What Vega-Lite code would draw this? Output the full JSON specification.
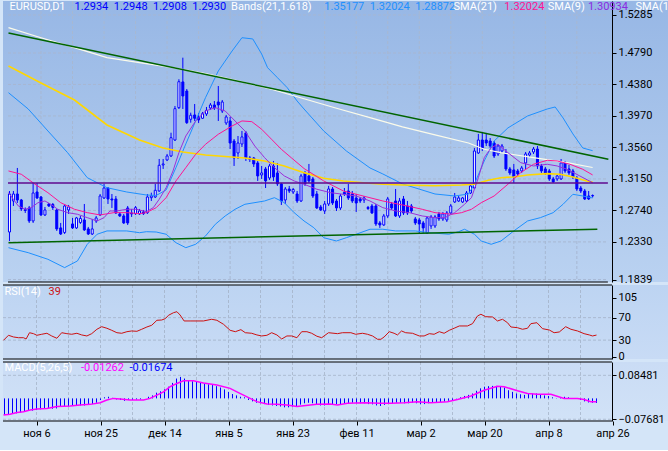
{
"$schema": "https://vega.github.io/schema/vega-lite/v6.json",
"background": "#d4e5f8",
"padding": {"left": 0, "top": 0, "right": 0, "bottom": 12},
"spacing": 3,
"bounds": "flush",
"config": {"view": {"stroke": null}, "font": "Roboto", "text": {"font": "Roboto"},
 "axis": {"labelOverlap": false, "labelBound": false, "labelFlush": false, "grid": false, "title": null, "labelFont": "Roboto", "labelFontSize": 11, "labelColor": "#000000", "tickColor": "#000000", "domainColor": "#000000", "tickSize": 4, "labelPadding": 2, "labelSeparation": 0}},
"resolve": {"scale": {"x": "independent", "y": "independent"}},
"datasets": {
"candles": [
{"i":0,"o":1.2459,"h":1.2993,"l":1.2342,"c":1.2954},{"i":1,"o":1.2863,"h":1.2993,"l":1.2798,"c":1.2954},{"i":2,"o":1.2954,"h":1.3293,"l":1.2837,"c":1.2876},{"i":3,"o":1.2876,"h":1.2889,"l":1.2733,"c":1.2759},{"i":4,"o":1.2752,"h":1.2779,"l":1.2707,"c":1.2739},{"i":5,"o":1.2772,"h":1.2798,"l":1.2577,"c":1.2603},{"i":6,"o":1.2603,"h":1.3098,"l":1.2577,"c":1.2967},{"i":7,"o":1.2980,"h":1.3098,"l":1.2889,"c":1.2902},{"i":8,"o":1.2915,"h":1.2928,"l":1.2668,"c":1.2681},{"i":9,"o":1.2681,"h":1.2785,"l":1.2668,"c":1.2746},
{"i":10,"o":1.2824,"h":1.2837,"l":1.2785,"c":1.2798},{"i":11,"o":1.2818,"h":1.2837,"l":1.2746,"c":1.2779},{"i":12,"o":1.2746,"h":1.2759,"l":1.2473,"c":1.2499},{"i":13,"o":1.2512,"h":1.2577,"l":1.2420,"c":1.2433},{"i":14,"o":1.2453,"h":1.2824,"l":1.2433,"c":1.2798},{"i":15,"o":1.2746,"h":1.2811,"l":1.2694,"c":1.2785},{"i":16,"o":1.2564,"h":1.2642,"l":1.2499,"c":1.2512},{"i":17,"o":1.2512,"h":1.2655,"l":1.2499,"c":1.2642},{"i":18,"o":1.2583,"h":1.2668,"l":1.2564,"c":1.2635},{"i":19,"o":1.2616,"h":1.2824,"l":1.2473,"c":1.2486},
{"i":20,"o":1.2499,"h":1.2525,"l":1.2420,"c":1.2433},{"i":21,"o":1.2433,"h":1.2629,"l":1.2420,"c":1.2499},{"i":22,"o":1.2603,"h":1.2668,"l":1.2577,"c":1.2642},{"i":23,"o":1.2681,"h":1.2954,"l":1.2668,"c":1.2928},{"i":24,"o":1.2902,"h":1.3085,"l":1.2889,"c":1.3032},{"i":25,"o":1.3032,"h":1.3045,"l":1.2824,"c":1.2889},{"i":26,"o":1.2889,"h":1.2954,"l":1.2772,"c":1.2876},{"i":27,"o":1.2889,"h":1.2928,"l":1.2694,"c":1.2707},{"i":28,"o":1.2694,"h":1.2720,"l":1.2655,"c":1.2668},{"i":29,"o":1.2668,"h":1.2694,"l":1.2564,"c":1.2577},
{"i":30,"o":1.2772,"h":1.2798,"l":1.2551,"c":1.2577},{"i":31,"o":1.2707,"h":1.2759,"l":1.2655,"c":1.2694},{"i":32,"o":1.2698,"h":1.2798,"l":1.2681,"c":1.2776},{"i":33,"o":1.2694,"h":1.2759,"l":1.2681,"c":1.2733},{"i":34,"o":1.2720,"h":1.2746,"l":1.2681,"c":1.2698},{"i":35,"o":1.2711,"h":1.2954,"l":1.2694,"c":1.2915},{"i":36,"o":1.2906,"h":1.2971,"l":1.2863,"c":1.2928},{"i":37,"o":1.2915,"h":1.3085,"l":1.2902,"c":1.3002},{"i":38,"o":1.2993,"h":1.3410,"l":1.2984,"c":1.3328},{"i":39,"o":1.3332,"h":1.3410,"l":1.3280,"c":1.3345},
{"i":40,"o":1.3397,"h":1.3475,"l":1.3384,"c":1.3449},{"i":41,"o":1.3449,"h":1.3752,"l":1.3436,"c":1.3687},{"i":42,"o":1.3657,"h":1.4100,"l":1.3644,"c":1.4065},{"i":43,"o":1.4078,"h":1.4448,"l":1.4061,"c":1.4416},{"i":44,"o":1.4413,"h":1.4729,"l":1.4061,"c":1.4230},{"i":45,"o":1.4295,"h":1.4321,"l":1.3866,"c":1.3883},{"i":46,"o":1.3927,"h":1.4013,"l":1.3883,"c":1.3979},{"i":47,"o":1.3983,"h":1.4126,"l":1.3905,"c":1.3940},{"i":48,"o":1.3957,"h":1.4009,"l":1.3879,"c":1.3918},{"i":49,"o":1.3940,"h":1.4022,"l":1.3931,"c":1.4000},
{"i":50,"o":1.3996,"h":1.4087,"l":1.3970,"c":1.4042},{"i":51,"o":1.4074,"h":1.4139,"l":1.4048,"c":1.4113},{"i":52,"o":1.4113,"h":1.4165,"l":1.4048,"c":1.4074},{"i":53,"o":1.4152,"h":1.4360,"l":1.3905,"c":1.4113},{"i":54,"o":1.4035,"h":1.4178,"l":1.4009,"c":1.4152},{"i":55,"o":1.3879,"h":1.3983,"l":1.3853,"c":1.3957},{"i":56,"o":1.3905,"h":1.3957,"l":1.3540,"c":1.3618},{"i":57,"o":1.3644,"h":1.3670,"l":1.3319,"c":1.3423},{"i":58,"o":1.3488,"h":1.3709,"l":1.3410,"c":1.3618},{"i":59,"o":1.3605,"h":1.3775,"l":1.3566,"c":1.3697},
{"i":60,"o":1.3749,"h":1.3775,"l":1.3384,"c":1.3423},{"i":61,"o":1.3423,"h":1.3449,"l":1.3371,"c":1.3404},{"i":62,"o":1.3423,"h":1.3436,"l":1.3306,"c":1.3345},{"i":63,"o":1.3358,"h":1.3384,"l":1.3124,"c":1.3189},{"i":64,"o":1.3202,"h":1.3319,"l":1.3150,"c":1.3228},{"i":65,"o":1.3280,"h":1.3306,"l":1.3032,"c":1.3124},{"i":66,"o":1.3163,"h":1.3345,"l":1.3137,"c":1.3319},{"i":67,"o":1.3319,"h":1.3384,"l":1.3124,"c":1.3176},{"i":68,"o":1.3228,"h":1.3358,"l":1.3059,"c":1.3085},{"i":69,"o":1.3085,"h":1.3098,"l":1.2811,"c":1.2863},
{"i":70,"o":1.2876,"h":1.3045,"l":1.2824,"c":1.3019},{"i":71,"o":1.3019,"h":1.3059,"l":1.2967,"c":1.2993},{"i":72,"o":1.2980,"h":1.3032,"l":1.2954,"c":1.3013},{"i":73,"o":1.2954,"h":1.2993,"l":1.2837,"c":1.2863},{"i":74,"o":1.2863,"h":1.3215,"l":1.2850,"c":1.3189},{"i":75,"o":1.3228,"h":1.3254,"l":1.3059,"c":1.3085},{"i":76,"o":1.3189,"h":1.3345,"l":1.3098,"c":1.3124},{"i":77,"o":1.3150,"h":1.3176,"l":1.2902,"c":1.2928},{"i":78,"o":1.2954,"h":1.2993,"l":1.2759,"c":1.2772},{"i":79,"o":1.2785,"h":1.2811,"l":1.2733,"c":1.2746},
{"i":80,"o":1.2733,"h":1.2863,"l":1.2694,"c":1.2824},{"i":81,"o":1.2824,"h":1.3059,"l":1.2798,"c":1.3019},{"i":82,"o":1.3019,"h":1.3045,"l":1.2811,"c":1.2837},{"i":83,"o":1.2863,"h":1.2889,"l":1.2733,"c":1.2772},{"i":84,"o":1.2772,"h":1.2954,"l":1.2746,"c":1.2928},{"i":85,"o":1.2974,"h":1.3032,"l":1.2928,"c":1.2954},{"i":86,"o":1.2993,"h":1.3085,"l":1.2876,"c":1.2902},{"i":87,"o":1.2954,"h":1.2993,"l":1.2837,"c":1.2863},{"i":88,"o":1.2902,"h":1.2954,"l":1.2720,"c":1.2837},{"i":89,"o":1.2889,"h":1.2915,"l":1.2837,"c":1.2863},
{"i":90,"o":1.2876,"h":1.2928,"l":1.2837,"c":1.2902},{"i":91,"o":1.2779,"h":1.2798,"l":1.2746,"c":1.2765},{"i":92,"o":1.2798,"h":1.2824,"l":1.2694,"c":1.2707},{"i":93,"o":1.2798,"h":1.2824,"l":1.2538,"c":1.2564},{"i":94,"o":1.2577,"h":1.2603,"l":1.2512,"c":1.2551},{"i":95,"o":1.2551,"h":1.2694,"l":1.2538,"c":1.2668},{"i":96,"o":1.2668,"h":1.2915,"l":1.2642,"c":1.2889},{"i":97,"o":1.2824,"h":1.2850,"l":1.2746,"c":1.2772},{"i":98,"o":1.2863,"h":1.3019,"l":1.2655,"c":1.2668},{"i":99,"o":1.2668,"h":1.2902,"l":1.2642,"c":1.2863},
{"i":100,"o":1.2889,"h":1.2928,"l":1.2681,"c":1.2707},{"i":101,"o":1.2798,"h":1.2863,"l":1.2681,"c":1.2707},{"i":102,"o":1.2798,"h":1.2824,"l":1.2707,"c":1.2733},{"i":103,"o":1.2629,"h":1.2655,"l":1.2551,"c":1.2577},{"i":104,"o":1.2616,"h":1.2642,"l":1.2433,"c":1.2564},{"i":105,"o":1.2577,"h":1.2603,"l":1.2447,"c":1.2512},{"i":106,"o":1.2447,"h":1.2655,"l":1.2433,"c":1.2642},{"i":107,"o":1.2538,"h":1.2681,"l":1.2499,"c":1.2655},{"i":108,"o":1.2538,"h":1.2681,"l":1.2512,"c":1.2655},{"i":109,"o":1.2694,"h":1.2720,"l":1.2603,"c":1.2629},
{"i":110,"o":1.2629,"h":1.2720,"l":1.2603,"c":1.2694},{"i":111,"o":1.2616,"h":1.2733,"l":1.2590,"c":1.2707},{"i":112,"o":1.2707,"h":1.2824,"l":1.2694,"c":1.2798},{"i":113,"o":1.2850,"h":1.2967,"l":1.2837,"c":1.2915},{"i":114,"o":1.2863,"h":1.2928,"l":1.2850,"c":1.2902},{"i":115,"o":1.2850,"h":1.2915,"l":1.2837,"c":1.2902},{"i":116,"o":1.2863,"h":1.2993,"l":1.2850,"c":1.2967},{"i":117,"o":1.2967,"h":1.3085,"l":1.2954,"c":1.3059},{"i":118,"o":1.3032,"h":1.3553,"l":1.3019,"c":1.3514},{"i":119,"o":1.3488,"h":1.3736,"l":1.3475,"c":1.3657},
{"i":120,"o":1.3657,"h":1.3762,"l":1.3514,"c":1.3553},{"i":121,"o":1.3657,"h":1.3749,"l":1.3579,"c":1.3618},{"i":122,"o":1.3644,"h":1.3683,"l":1.3553,"c":1.3579},{"i":123,"o":1.3618,"h":1.3644,"l":1.3423,"c":1.3449},{"i":124,"o":1.3475,"h":1.3605,"l":1.3449,"c":1.3579},{"i":125,"o":1.3514,"h":1.3605,"l":1.3488,"c":1.3579},{"i":126,"o":1.3488,"h":1.3540,"l":1.3254,"c":1.3280},{"i":127,"o":1.3280,"h":1.3306,"l":1.3202,"c":1.3228},{"i":128,"o":1.3267,"h":1.3345,"l":1.3098,"c":1.3176},{"i":129,"o":1.3254,"h":1.3280,"l":1.3189,"c":1.3215},
{"i":130,"o":1.3254,"h":1.3319,"l":1.3228,"c":1.3293},{"i":131,"o":1.3358,"h":1.3501,"l":1.3280,"c":1.3475},{"i":132,"o":1.3462,"h":1.3514,"l":1.3436,"c":1.3488},{"i":133,"o":1.3501,"h":1.3566,"l":1.3475,"c":1.3540},{"i":134,"o":1.3540,"h":1.3579,"l":1.3280,"c":1.3319},{"i":135,"o":1.3319,"h":1.3345,"l":1.3228,"c":1.3254},{"i":136,"o":1.3280,"h":1.3306,"l":1.3202,"c":1.3228},{"i":137,"o":1.3254,"h":1.3280,"l":1.3124,"c":1.3150},{"i":138,"o":1.3150,"h":1.3176,"l":1.3098,"c":1.3111},{"i":139,"o":1.3150,"h":1.3202,"l":1.3124,"c":1.3189},
{"i":140,"o":1.3150,"h":1.3410,"l":1.3137,"c":1.3358},{"i":141,"o":1.3358,"h":1.3384,"l":1.3228,"c":1.3254},{"i":142,"o":1.3280,"h":1.3332,"l":1.3202,"c":1.3228},{"i":143,"o":1.3254,"h":1.3280,"l":1.3150,"c":1.3176},{"i":144,"o":1.3163,"h":1.3189,"l":1.2993,"c":1.3019},{"i":145,"o":1.3032,"h":1.3059,"l":1.2967,"c":1.2993},{"i":146,"o":1.2993,"h":1.3019,"l":1.2876,"c":1.2889},{"i":147,"o":1.2928,"h":1.2993,"l":1.2876,"c":1.2889},{"i":148,"o":1.2934,"h":1.2948,"l":1.2908,"c":1.2930}
],
"bbU": [{"i":-0.25,"v":1.4273},{"i":4.75,"v":1.4061},{"i":9.75,"v":1.3775},{"i":14.75,"v":1.3492},{"i":19.75,"v":1.3166},{"i":24.75,"v":1.3036},{"i":29.75,"v":1.2980},{"i":34.75,"v":1.2941},{"i":37.25,"v":1.2935},{"i":39.75,"v":1.3006},{"i":42.25,"v":1.3297},{"i":44.75,"v":1.3605},{"i":47.25,"v":1.3905},{"i":49.75,"v":1.4208},{"i":53,"v":1.4556},{"i":56.5,"v":1.4816},{"i":59,"v":1.4989},{"i":61.75,"v":1.4973},{"i":64,"v":1.4777},{"i":65.5,"v":1.4599},{"i":68,"v":1.4469},{"i":70.5,"v":1.4338},{"i":73,"v":1.4165},{"i":74.75,"v":1.4061},{"i":79.75,"v":1.3775},{"i":85.5,"v":1.3514},{"i":91.5,"v":1.3293},{"i":94.75,"v":1.3215},{"i":99.75,"v":1.3085},{"i":108,"v":1.2954},{"i":113,"v":1.2928},{"i":116.5,"v":1.2954},{"i":118,"v":1.3085},{"i":120.5,"v":1.3384},{"i":123,"v":1.3644},{"i":126.5,"v":1.3814},{"i":131.5,"v":1.3970},{"i":136.5,"v":1.4061},{"i":138.5,"v":1.4087},{"i":140.5,"v":1.3944},{"i":143,"v":1.3736},{"i":145.5,"v":1.3553},{"i":148,"v":1.3518}],
"bbL": [{"i":-0.25,"v":1.2255},{"i":4.75,"v":1.2190},{"i":9.75,"v":1.2104},{"i":14,"v":1.1995},{"i":17.25,"v":1.2082},{"i":19.75,"v":1.2299},{"i":22.25,"v":1.2430},{"i":24.75,"v":1.2473},{"i":29.75,"v":1.2473},{"i":33,"v":1.2450},{"i":34.75,"v":1.2463},{"i":37.25,"v":1.2459},{"i":39.75,"v":1.2430},{"i":42.25,"v":1.2320},{"i":44.75,"v":1.2255},{"i":47.25,"v":1.2299},{"i":49.75,"v":1.2407},{"i":52.25,"v":1.2560},{"i":54.75,"v":1.2668},{"i":57.25,"v":1.2755},{"i":59.75,"v":1.2820},{"i":64.75,"v":1.2863},{"i":67.25,"v":1.2906},{"i":69.75,"v":1.2841},{"i":72.25,"v":1.2711},{"i":74.75,"v":1.2603},{"i":77.25,"v":1.2515},{"i":79.75,"v":1.2385},{"i":83,"v":1.2342},{"i":85.5,"v":1.2385},{"i":88,"v":1.2430},{"i":91.5,"v":1.2495},{"i":94.75,"v":1.2495},{"i":98,"v":1.2473},{"i":103,"v":1.2473},{"i":106.5,"v":1.2450},{"i":111.5,"v":1.2430},{"i":114,"v":1.2463},{"i":115.5,"v":1.2495},{"i":118,"v":1.2430},{"i":119.75,"v":1.2342},{"i":122.25,"v":1.2299},{"i":124.75,"v":1.2342},{"i":128,"v":1.2473},{"i":131.5,"v":1.2603},{"i":134.75,"v":1.2646},{"i":138,"v":1.2711},{"i":140.5,"v":1.2820},{"i":143,"v":1.2950},{"i":145.5,"v":1.2928},{"i":148,"v":1.2902}],
"sma21": [{"i":-0.25,"v":1.3254},{"i":3,"v":1.3211},{"i":6.5,"v":1.3081},{"i":9.75,"v":1.2971},{"i":13,"v":1.2841},{"i":16.5,"v":1.2755},{"i":19.75,"v":1.2711},{"i":23,"v":1.2681},{"i":26.5,"v":1.2711},{"i":29.75,"v":1.2711},{"i":33,"v":1.2698},{"i":34.75,"v":1.2711},{"i":37.25,"v":1.2776},{"i":39.75,"v":1.2906},{"i":42.25,"v":1.3124},{"i":44.75,"v":1.3297},{"i":47.25,"v":1.3471},{"i":49.75,"v":1.3601},{"i":53,"v":1.3732},{"i":56.5,"v":1.3840},{"i":59,"v":1.3905},{"i":61.5,"v":1.3896},{"i":64,"v":1.3797},{"i":66.5,"v":1.3667},{"i":69,"v":1.3536},{"i":71.5,"v":1.3427},{"i":74.75,"v":1.3286},{"i":79.75,"v":1.3124},{"i":84.75,"v":1.2993},{"i":89.75,"v":1.2928},{"i":94.75,"v":1.2863},{"i":99.75,"v":1.2811},{"i":104.75,"v":1.2755},{"i":108,"v":1.2711},{"i":112.25,"v":1.2690},{"i":114.75,"v":1.2711},{"i":117.25,"v":1.2755},{"i":119.75,"v":1.2841},{"i":123,"v":1.2928},{"i":126.5,"v":1.3081},{"i":129.75,"v":1.3232},{"i":133,"v":1.3341},{"i":136.5,"v":1.3393},{"i":139,"v":1.3384},{"i":142.25,"v":1.3341},{"i":145.5,"v":1.3276},{"i":148,"v":1.3202}],
"sma9": [{"i":-0.25,"v":1.2971},{"i":1,"v":1.2885},{"i":2.25,"v":1.2798},{"i":4,"v":1.2755},{"i":5.5,"v":1.2776},{"i":7.25,"v":1.2841},{"i":9,"v":1.2863},{"i":10.5,"v":1.2820},{"i":12.25,"v":1.2755},{"i":14.75,"v":1.2711},{"i":17.25,"v":1.2690},{"i":19.75,"v":1.2646},{"i":22.25,"v":1.2603},{"i":24,"v":1.2646},{"i":25.5,"v":1.2733},{"i":27.25,"v":1.2733},{"i":29.75,"v":1.2755},{"i":32.25,"v":1.2755},{"i":34.75,"v":1.2724},{"i":36.5,"v":1.2776},{"i":38,"v":1.2885},{"i":39.75,"v":1.3036},{"i":41.5,"v":1.3254},{"i":43,"v":1.3492},{"i":44.75,"v":1.3709},{"i":47.25,"v":1.3905},{"i":49.75,"v":1.4035},{"i":52.25,"v":1.4078},{"i":54.75,"v":1.4035},{"i":57.25,"v":1.3905},{"i":59.75,"v":1.3775},{"i":62.25,"v":1.3579},{"i":64.75,"v":1.3427},{"i":67.25,"v":1.3297},{"i":69.75,"v":1.3189},{"i":72.25,"v":1.3124},{"i":74.75,"v":1.3081},{"i":78,"v":1.3016},{"i":81.5,"v":1.2971},{"i":84.75,"v":1.2950},{"i":88,"v":1.2928},{"i":91.5,"v":1.2863},{"i":94.75,"v":1.2776},{"i":98,"v":1.2733},{"i":101.5,"v":1.2711},{"i":104.75,"v":1.2668},{"i":108,"v":1.2646},{"i":110.5,"v":1.2646},{"i":113,"v":1.2711},{"i":115.5,"v":1.2820},{"i":117.25,"v":1.2906},{"i":119,"v":1.3166},{"i":120.5,"v":1.3427},{"i":122.25,"v":1.3557},{"i":124,"v":1.3601},{"i":126.5,"v":1.3492},{"i":129.75,"v":1.3362},{"i":133,"v":1.3319},{"i":136.5,"v":1.3341},{"i":139,"v":1.3319},{"i":141.5,"v":1.3276},{"i":144.75,"v":1.3189},{"i":148,"v":1.3101}],
"sma100": [{"i":-0.25,"v":1.4621},{"i":8,"v":1.4400},{"i":16.5,"v":1.4178},{"i":24.75,"v":1.3853},{"i":33,"v":1.3657},{"i":39,"v":1.3553},{"i":44,"v":1.3501},{"i":49.75,"v":1.3462},{"i":54.75,"v":1.3443},{"i":59.75,"v":1.3423},{"i":64.75,"v":1.3384},{"i":69.75,"v":1.3319},{"i":74.75,"v":1.3232},{"i":79.75,"v":1.3159},{"i":84.75,"v":1.3124},{"i":89.75,"v":1.3101},{"i":94.75,"v":1.3081},{"i":99.75,"v":1.3071},{"i":108,"v":1.3062},{"i":114.75,"v":1.3071},{"i":118,"v":1.3081},{"i":121.5,"v":1.3133},{"i":124.75,"v":1.3166},{"i":128,"v":1.3176},{"i":131.5,"v":1.3202},{"i":136.5,"v":1.3219},{"i":139.75,"v":1.3211},{"i":143,"v":1.3176},{"i":146.5,"v":1.3124},{"i":148,"v":1.3111}],
"sma200": [{"i":-0.25,"v":1.5120},{"i":8,"v":1.4989},{"i":16.5,"v":1.4859},{"i":24.75,"v":1.4729},{"i":33,"v":1.4664},{"i":41.5,"v":1.4599},{"i":49.75,"v":1.4521},{"i":58,"v":1.4426},{"i":66.5,"v":1.4318},{"i":74.75,"v":1.4194},{"i":83,"v":1.4070},{"i":91.5,"v":1.3948},{"i":99.75,"v":1.3827},{"i":108,"v":1.3723},{"i":116.5,"v":1.3618},{"i":120.5,"v":1.3536},{"i":124.75,"v":1.3492},{"i":133,"v":1.3427},{"i":141.5,"v":1.3362},{"i":148,"v":1.3299}],
"trendU": [{"i":-0.25,"v":1.5051},{"i":152,"v":1.3406}],
"trendL": [{"i":-0.25,"v":1.2320},{"i":149.2,"v":1.2495}],
"level": [{"v":1.3098}],
"rsi": [{"i":-0.25,"v":29.7},{"i":1,"v":38.6},{"i":2.25,"v":35.6},{"i":3.5,"v":34.3},{"i":4.75,"v":34.3},{"i":5.4,"v":32.0},{"i":6.25,"v":43.2},{"i":7.25,"v":41.5},{"i":8.1,"v":38.6},{"i":9.3,"v":40.4},{"i":10.6,"v":42.2},{"i":11.8,"v":37.4},{"i":13.1,"v":33.3},{"i":14.3,"v":43.2},{"i":15.6,"v":41.5},{"i":16.8,"v":40.4},{"i":18.1,"v":42.2},{"i":19.3,"v":39.2},{"i":20.6,"v":37.4},{"i":21.8,"v":41.5},{"i":23.1,"v":49.3},{"i":24.3,"v":53.9},{"i":25.6,"v":51.1},{"i":26.8,"v":47.5},{"i":28.1,"v":43.2},{"i":29.3,"v":42.2},{"i":30.6,"v":45.0},{"i":31.8,"v":46.3},{"i":33.1,"v":45.7},{"i":34.3,"v":49.3},{"i":35.6,"v":53.4},{"i":36.8,"v":56.4},{"i":38.1,"v":65.3},{"i":39.3,"v":65.8},{"i":40.2,"v":68.2},{"i":41,"v":74.2},{"i":42.25,"v":78.8},{"i":43.1,"v":80.6},{"i":43.9,"v":74.7},{"i":44.9,"v":64.1},{"i":46.4,"v":64.1},{"i":48.1,"v":64.1},{"i":49.75,"v":64.1},{"i":51.8,"v":67.1},{"i":53.1,"v":65.3},{"i":54.75,"v":58.2},{"i":56.4,"v":47.5},{"i":57.7,"v":45.0},{"i":59.1,"v":48.6},{"i":60.2,"v":43.2},{"i":61.8,"v":42.2},{"i":63.1,"v":39.2},{"i":64.3,"v":37.4},{"i":65.6,"v":38.6},{"i":66.8,"v":43.2},{"i":68.1,"v":39.2},{"i":69.3,"v":32.0},{"i":70.6,"v":37.4},{"i":71.8,"v":37.4},{"i":73.1,"v":34.3},{"i":74.3,"v":45.0},{"i":75.6,"v":45.0},{"i":76.8,"v":42.2},{"i":78.1,"v":36.9},{"i":79.3,"v":34.3},{"i":81,"v":43.2},{"i":83.25,"v":41.5},{"i":84.5,"v":43.2},{"i":86.6,"v":43.2},{"i":87.8,"v":40.4},{"i":89.5,"v":42.2},{"i":90.75,"v":40.4},{"i":92,"v":37.4},{"i":93.25,"v":31.5},{"i":94.1,"v":31.5},{"i":94.9,"v":35.6},{"i":96.2,"v":45.0},{"i":97.4,"v":42.2},{"i":98.25,"v":39.2},{"i":99.25,"v":46.3},{"i":100.3,"v":43.2},{"i":102,"v":42.2},{"i":103.7,"v":37.4},{"i":104.9,"v":37.4},{"i":106.2,"v":41.5},{"i":107.4,"v":40.4},{"i":108.7,"v":45.0},{"i":109.9,"v":42.2},{"i":111.2,"v":47.5},{"i":112.4,"v":51.1},{"i":113.7,"v":55.2},{"i":115.75,"v":55.2},{"i":117,"v":59.3},{"i":118.25,"v":73.0},{"i":119.1,"v":76.0},{"i":120.3,"v":71.7},{"i":122,"v":71.2},{"i":123.25,"v":64.1},{"i":124.5,"v":67.1},{"i":125.75,"v":61.0},{"i":126.6,"v":53.4},{"i":128.25,"v":52.1},{"i":129.5,"v":49.3},{"i":130.75,"v":51.1},{"i":131.6,"v":59.3},{"i":133.1,"v":61.0},{"i":134.5,"v":50.4},{"i":136.2,"v":48.0},{"i":137.4,"v":43.2},{"i":138.7,"v":44.5},{"i":140.3,"v":53.9},{"i":141.6,"v":49.3},{"i":143.25,"v":46.3},{"i":144.9,"v":41.5},{"i":146.2,"v":39.2},{"i":147,"v":37.4},{"i":148,"v":39}],
"macdH": [{"i":0,"h":-0.061},{"i":1,"h":-0.058},{"i":2,"h":-0.057},{"i":3,"h":-0.055},{"i":4,"h":-0.052},{"i":5,"h":-0.050},{"i":6,"h":-0.045},{"i":7,"h":-0.045},{"i":8,"h":-0.043},{"i":9,"h":-0.040},{"i":10,"h":-0.037},{"i":11,"h":-0.037},{"i":12,"h":-0.038},{"i":13,"h":-0.037},{"i":14,"h":-0.030},{"i":15,"h":-0.030},{"i":16,"h":-0.030},{"i":17,"h":-0.028},{"i":18,"h":-0.027},{"i":19,"h":-0.026},{"i":20,"h":-0.026},{"i":21,"h":-0.024},{"i":22,"h":-0.021},{"i":23,"h":-0.016},{"i":24,"h":-0.006},{"i":25,"h":0.004},{"i":26,"h":0.006},{"i":27,"h":0.002},{"i":28,"h":-0.004},{"i":29,"h":-0.006},{"i":30,"h":-0.009},{"i":31,"h":-0.006},{"i":32,"h":-0.006},{"i":33,"h":-0.004},{"i":34,"h":-0.004},{"i":35,"h":0.000},{"i":36,"h":0.006},{"i":37,"h":0.011},{"i":38,"h":0.021},{"i":39,"h":0.026},{"i":40,"h":0.033},{"i":41,"h":0.043},{"i":42,"h":0.057},{"i":43,"h":0.073},{"i":44,"h":0.079},{"i":45,"h":0.073},{"i":46,"h":0.067},{"i":47,"h":0.063},{"i":48,"h":0.061},{"i":49,"h":0.057},{"i":50,"h":0.055},{"i":51,"h":0.052},{"i":52,"h":0.049},{"i":53,"h":0.045},{"i":54,"h":0.040},{"i":55,"h":0.033},{"i":56,"h":0.024},{"i":57,"h":0.016},{"i":58,"h":0.011},{"i":59,"h":0.006},{"i":60,"h":0.004},{"i":61,"h":-0.006},{"i":62,"h":-0.011},{"i":63,"h":-0.016},{"i":64,"h":-0.018},{"i":65,"h":-0.021},{"i":66,"h":-0.024},{"i":67,"h":-0.026},{"i":68,"h":-0.028},{"i":69,"h":-0.030},{"i":70,"h":-0.033},{"i":71,"h":-0.033},{"i":72,"h":-0.030},{"i":73,"h":-0.028},{"i":74,"h":-0.023},{"i":75,"h":-0.018},{"i":76,"h":-0.016},{"i":77,"h":-0.018},{"i":78,"h":-0.023},{"i":79,"h":-0.026},{"i":80,"h":-0.026},{"i":81,"h":-0.021},{"i":82,"h":-0.021},{"i":83,"h":-0.022},{"i":84,"h":-0.021},{"i":85,"h":-0.018},{"i":86,"h":-0.018},{"i":87,"h":-0.016},{"i":88,"h":-0.018},{"i":89,"h":-0.018},{"i":90,"h":-0.018},{"i":91,"h":-0.021},{"i":92,"h":-0.022},{"i":93,"h":-0.026},{"i":94,"h":-0.028},{"i":95,"h":-0.024},{"i":96,"h":-0.018},{"i":97,"h":-0.018},{"i":98,"h":-0.016},{"i":99,"h":-0.016},{"i":100,"h":-0.018},{"i":101,"h":-0.018},{"i":102,"h":-0.016},{"i":103,"h":-0.018},{"i":104,"h":-0.021},{"i":105,"h":-0.021},{"i":106,"h":-0.018},{"i":107,"h":-0.016},{"i":108,"h":-0.016},{"i":109,"h":-0.013},{"i":110,"h":-0.012},{"i":111,"h":-0.009},{"i":112,"h":-0.006},{"i":113,"h":-0.001},{"i":114,"h":0.004},{"i":115,"h":0.009},{"i":116,"h":0.013},{"i":117,"h":0.018},{"i":118,"h":0.028},{"i":119,"h":0.037},{"i":120,"h":0.043},{"i":121,"h":0.045},{"i":122,"h":0.046},{"i":123,"h":0.046},{"i":124,"h":0.045},{"i":125,"h":0.040},{"i":126,"h":0.030},{"i":127,"h":0.024},{"i":128,"h":0.018},{"i":129,"h":0.015},{"i":130,"h":0.013},{"i":131,"h":0.016},{"i":132,"h":0.018},{"i":133,"h":0.018},{"i":134,"h":0.013},{"i":135,"h":0.011},{"i":136,"h":0.009},{"i":137,"h":0.004},{"i":138,"h":0.001},{"i":139,"h":0.002},{"i":140,"h":0.006},{"i":141,"h":0.004},{"i":142,"h":0.001},{"i":143,"h":-0.001},{"i":144,"h":-0.006},{"i":145,"h":-0.011},{"i":146,"h":-0.015},{"i":147,"h":-0.016},{"i":148,"h":-0.01674}],
"macdS": [{"i":-0.25,"v":-0.061},{"i":1.4,"v":-0.058},{"i":3.1,"v":-0.052},{"i":4.75,"v":-0.049},{"i":6.4,"v":-0.043},{"i":8.1,"v":-0.039},{"i":10.6,"v":-0.037},{"i":13.1,"v":-0.030},{"i":16.4,"v":-0.028},{"i":18.9,"v":-0.024},{"i":21.4,"v":-0.022},{"i":23.9,"v":-0.016},{"i":25.6,"v":-0.006},{"i":27.25,"v":0.000},{"i":28.9,"v":-0.002},{"i":31.4,"v":-0.006},{"i":34.75,"v":-0.006},{"i":36.4,"v":0.000},{"i":38.1,"v":0.012},{"i":39.75,"v":0.024},{"i":41.4,"v":0.043},{"i":43.1,"v":0.055},{"i":44.75,"v":0.065},{"i":47.25,"v":0.065},{"i":49.75,"v":0.057},{"i":53.1,"v":0.049},{"i":56.4,"v":0.037},{"i":58.1,"v":0.024},{"i":59.75,"v":0.012},{"i":61.4,"v":0.000},{"i":63.1,"v":-0.012},{"i":65.6,"v":-0.021},{"i":68.1,"v":-0.022},{"i":70.6,"v":-0.024},{"i":73.1,"v":-0.030},{"i":74.75,"v":-0.027},{"i":78.1,"v":-0.022},{"i":81.4,"v":-0.021},{"i":83.25,"v":-0.024},{"i":85.75,"v":-0.018},{"i":89.9,"v":-0.016},{"i":94.1,"v":-0.018},{"i":96.6,"v":-0.018},{"i":99.9,"v":-0.016},{"i":103.25,"v":-0.012},{"i":106.6,"v":-0.016},{"i":110.75,"v":-0.012},{"i":113.25,"v":-0.004},{"i":116.6,"v":0.009},{"i":119.9,"v":0.030},{"i":123.25,"v":0.045},{"i":124.9,"v":0.043},{"i":128.25,"v":0.028},{"i":130.75,"v":0.018},{"i":133.25,"v":0.015},{"i":136.6,"v":0.015},{"i":139.9,"v":0.000},{"i":143.25,"v":0.000},{"i":144.9,"v":-0.004},{"i":146.6,"v":-0.012},{"i":148,"v":-0.01262}],
"vgrid": [{"i":8},{"i":16},{"i":24},{"i":32},{"i":40},{"i":48},{"i":56},{"i":64},{"i":72},{"i":80},{"i":88},{"i":96},{"i":104},{"i":112},{"i":120},{"i":128},{"i":136},{"i":144}],
"hgMain": [{"v":1.5285},{"v":1.479},{"v":1.438},{"v":1.397},{"v":1.356},{"v":1.315},{"v":1.274},{"v":1.233},{"v":1.1839}],
"hgRsi": [{"v":70},{"v":30}],
"hgMacd": [{"v":0.08481},{"v":-0.07681}]
},
"vconcat": [
{
"width": 668, "height": 281,
"view": {"stroke": null, "fill": {"gradient": "linear", "x1": 0, "y1": 0, "x2": 0, "y2": 1, "stops": [{"offset": 0, "color": "#97b7e5"}, {"offset": 1, "color": "#bad2f1"}]}},
"resolve": {"axis": {"y": "independent", "x": "independent"}},
"layer": [
{"data": {"name": "hgMain"}, "mark": {"type": "rule", "color": "#a7b8d2", "strokeDash": [3, 2], "strokeWidth": 1},
 "encoding": {"y": {"field": "v", "type": "quantitative", "scale": {"domain": [1.1808, 1.5467], "nice": false, "zero": false},
   "axis": {"orient": "right", "offset": -59, "values": [1.5285, 1.479, 1.438, 1.397, 1.356, 1.315, 1.274, 1.233, 1.1839], "format": ".4f", "title": null, "grid": false, "domain": true, "domainColor": "#000000", "domainWidth": 1, "ticks": true, "tickColor": "#000000", "tickSize": 4, "labelColor": "#000000", "labelFont": "Roboto", "labelFontSize": 11, "labelPadding": 2, "labelOverlap": false, "labelBound": false, "labelFlush": false}},
  "x": {"datum": -0.375, "type": "quantitative", "scale": {"domain": [-0.375, 166.625], "nice": false, "zero": false}, "axis": null},
  "x2": {"datum": 151.875}}},
{"data": {"name": "vgrid"}, "mark": {"type": "rule", "color": "#a7b8d2", "strokeDash": [3, 2], "strokeWidth": 1},
 "encoding": {"x": {"field": "i", "type": "quantitative", "axis": null}}},
{"data": {"values": [{"v": 1.1808}]}, "mark": {"type": "rule", "color": "#000000", "strokeWidth": 1},
 "encoding": {"y": {"field": "v", "type": "quantitative", "axis": null}, "x": {"datum": -0.375, "type": "quantitative", "axis": null}, "x2": {"datum": 151.875}}},
{"data": {"name": "candles"}, "mark": {"type": "rule", "color": "#0000ff", "strokeWidth": 1},
 "encoding": {"x": {"field": "i", "type": "quantitative", "axis": null}, "y": {"field": "l", "type": "quantitative", "axis": null}, "y2": {"field": "h"}}},
{"data": {"name": "candles"}, "mark": {"type": "bar", "width": 2, "stroke": "#0000ff", "strokeWidth": 1},
 "encoding": {"x": {"field": "i", "type": "quantitative", "axis": null}, "y": {"field": "o", "type": "quantitative", "axis": null}, "y2": {"field": "c"},
  "fill": {"condition": {"test": "datum.c > datum.o", "value": "#ffffff"}, "value": "#0000ff"}}},
{"data": {"name": "bbU"}, "mark": {"type": "line", "color": "#1e90ff", "strokeWidth": 1},
 "encoding": {"x": {"field": "i", "type": "quantitative", "axis": null}, "y": {"field": "v", "type": "quantitative", "axis": null}}},
{"data": {"name": "bbL"}, "mark": {"type": "line", "color": "#1e90ff", "strokeWidth": 1},
 "encoding": {"x": {"field": "i", "type": "quantitative", "axis": null}, "y": {"field": "v", "type": "quantitative", "axis": null}}},
{"data": {"name": "sma200"}, "mark": {"type": "line", "color": "#fbfbea", "strokeWidth": 1.2},
 "encoding": {"x": {"field": "i", "type": "quantitative", "axis": null}, "y": {"field": "v", "type": "quantitative", "axis": null}}},
{"data": {"name": "sma100"}, "mark": {"type": "line", "color": "#ffd700", "strokeWidth": 1.6},
 "encoding": {"x": {"field": "i", "type": "quantitative", "axis": null}, "y": {"field": "v", "type": "quantitative", "axis": null}}},
{"data": {"name": "sma21"}, "mark": {"type": "line", "color": "#ff1493", "strokeWidth": 1},
 "encoding": {"x": {"field": "i", "type": "quantitative", "axis": null}, "y": {"field": "v", "type": "quantitative", "axis": null}}},
{"data": {"name": "sma9"}, "mark": {"type": "line", "color": "#9b30d9", "strokeWidth": 1},
 "encoding": {"x": {"field": "i", "type": "quantitative", "axis": null}, "y": {"field": "v", "type": "quantitative", "axis": null}}},
{"data": {"name": "trendU"}, "mark": {"type": "line", "color": "#006400", "strokeWidth": 1.5},
 "encoding": {"x": {"field": "i", "type": "quantitative", "axis": null}, "y": {"field": "v", "type": "quantitative", "axis": null}}},
{"data": {"name": "trendL"}, "mark": {"type": "line", "color": "#006400", "strokeWidth": 1.5},
 "encoding": {"x": {"field": "i", "type": "quantitative", "axis": null}, "y": {"field": "v", "type": "quantitative", "axis": null}}},
{"data": {"name": "level"}, "mark": {"type": "rule", "color": "#5f0a8f", "strokeWidth": 1.5},
 "encoding": {"y": {"field": "v", "type": "quantitative", "axis": null}, "x": {"datum": -0.375, "type": "quantitative", "axis": null}, "x2": {"datum": 151.875}}},
{"data": {"values": [{}]}, "mark": {"type": "text", "text": "EURUSD,D1", "color": "#ffffff", "align": "left", "baseline": "middle", "font": "Roboto", "fontSize": 11},
 "encoding": {"x": {"datum": 0, "type": "quantitative", "axis": null}, "y": {"datum": 1.5389, "type": "quantitative", "axis": null}}},
{"data": {"values": [{}]}, "mark": {"type": "text", "text": "1.2934\u00a0\u00a01.2948\u00a0\u00a01.2908\u00a0\u00a01.2930", "color": "#0000ff", "align": "left", "baseline": "middle", "font": "Roboto", "fontSize": 11},
 "encoding": {"x": {"datum": 16.5, "type": "quantitative", "axis": null}, "y": {"datum": 1.5389, "type": "quantitative", "axis": null}}},
{"data": {"values": [{}]}, "mark": {"type": "text", "text": "Bands(21,1.618)", "color": "#ffffff", "align": "left", "baseline": "middle", "font": "Roboto", "fontSize": 11},
 "encoding": {"x": {"datum": 56.25, "type": "quantitative", "axis": null}, "y": {"datum": 1.5389, "type": "quantitative", "axis": null}}},
{"data": {"values": [{}]}, "mark": {"type": "text", "text": "1.35177\u00a0\u00a01.32024\u00a0\u00a01.28872", "color": "#1e90ff", "align": "left", "baseline": "middle", "font": "Roboto", "fontSize": 11},
 "encoding": {"x": {"datum": 79.9, "type": "quantitative", "axis": null}, "y": {"datum": 1.5389, "type": "quantitative", "axis": null}}},
{"data": {"values": [{}]}, "mark": {"type": "text", "text": "SMA(21)", "color": "#ffffff", "align": "left", "baseline": "middle", "font": "Roboto", "fontSize": 11},
 "encoding": {"x": {"datum": 112.7, "type": "quantitative", "axis": null}, "y": {"datum": 1.5389, "type": "quantitative", "axis": null}}},
{"data": {"values": [{}]}, "mark": {"type": "text", "text": "1.32024", "color": "#ff1493", "align": "left", "baseline": "middle", "font": "Roboto", "fontSize": 11},
 "encoding": {"x": {"datum": 125.6, "type": "quantitative", "axis": null}, "y": {"datum": 1.5389, "type": "quantitative", "axis": null}}},
{"data": {"values": [{}]}, "mark": {"type": "text", "text": "SMA(9)", "color": "#ffffff", "align": "left", "baseline": "middle", "font": "Roboto", "fontSize": 11},
 "encoding": {"x": {"datum": 136.6, "type": "quantitative", "axis": null}, "y": {"datum": 1.5389, "type": "quantitative", "axis": null}}},
{"data": {"values": [{}]}, "mark": {"type": "text", "text": "1.30934", "color": "#8a2be2", "align": "left", "baseline": "middle", "font": "Roboto", "fontSize": 11},
 "encoding": {"x": {"datum": 146.8, "type": "quantitative", "axis": null}, "y": {"datum": 1.5389, "type": "quantitative", "axis": null}}},
{"data": {"values": [{}]}, "mark": {"type": "text", "text": "SMA(100)", "color": "#ffffff", "align": "left", "baseline": "middle", "font": "Roboto", "fontSize": 11, "clip": true},
 "encoding": {"x": {"datum": 158.9, "type": "quantitative", "axis": null}, "y": {"datum": 1.5389, "type": "quantitative", "axis": null}}}
]
},
{
"width": 668, "height": 74,
"view": {"stroke": null, "fill": {"gradient": "linear", "x1": 0, "y1": 0, "x2": 0, "y2": 1, "stops": [{"offset": 0, "color": "#bdd4f2"}, {"offset": 1, "color": "#c8dbf5"}]}},
"resolve": {"axis": {"y": "independent", "x": "independent"}},
"layer": [
{"data": {"name": "hgRsi"}, "mark": {"type": "rule", "color": "#a9b9d0", "strokeDash": [3, 2], "strokeWidth": 1},
 "encoding": {"y": {"field": "v", "type": "quantitative", "scale": {"domain": [-3.6, 128.1], "nice": false, "zero": false},
   "axis": {"orient": "right", "offset": -59, "values": [105, 70, 30, 0], "format": "d", "title": null, "grid": false, "domain": true, "domainColor": "#000000", "domainWidth": 1, "ticks": true, "tickColor": "#000000", "tickSize": 4, "labelColor": "#000000", "labelFont": "Roboto", "labelFontSize": 11, "labelPadding": 2, "labelOverlap": false, "labelBound": false, "labelFlush": false}},
  "x": {"datum": -0.375, "type": "quantitative", "scale": {"domain": [-0.375, 166.625], "nice": false, "zero": false}, "axis": null},
  "x2": {"datum": 151.875}}},
{"data": {"name": "vgrid"}, "mark": {"type": "rule", "color": "#a9b9d0", "strokeDash": [3, 2], "strokeWidth": 1},
 "encoding": {"x": {"field": "i", "type": "quantitative", "axis": null}}},
{"data": {"values": [{"v": -3.6}, {"v": 128.1}]}, "mark": {"type": "rule", "color": "#000000", "strokeWidth": 1},
 "encoding": {"y": {"field": "v", "type": "quantitative", "axis": null}, "x": {"datum": -0.375, "type": "quantitative", "axis": null}, "x2": {"datum": 151.875}}},
{"data": {"name": "rsi"}, "mark": {"type": "line", "color": "#cc1111", "strokeWidth": 1},
 "encoding": {"x": {"field": "i", "type": "quantitative", "axis": null}, "y": {"field": "v", "type": "quantitative", "axis": null}}},
{"data": {"values": [{}]}, "mark": {"type": "text", "text": "RSI(14)", "color": "#ffffff", "align": "left", "baseline": "middle", "font": "Roboto", "fontSize": 11},
 "encoding": {"x": {"datum": 0, "type": "quantitative", "axis": null}, "y": {"datum": 115.6, "type": "quantitative", "axis": null}}},
{"data": {"values": [{}]}, "mark": {"type": "text", "text": "39", "color": "#cc1111", "align": "left", "baseline": "middle", "font": "Roboto", "fontSize": 11},
 "encoding": {"x": {"datum": 11, "type": "quantitative", "axis": null}, "y": {"datum": 115.6, "type": "quantitative", "axis": null}}}
]
},
{
"width": 668, "height": 59,
"view": {"stroke": null, "fill": {"gradient": "linear", "x1": 0, "y1": 0, "x2": 0, "y2": 1, "stops": [{"offset": 0, "color": "#cadcf5"}, {"offset": 1, "color": "#d1e2f7"}]}},
"resolve": {"axis": {"y": "independent", "x": "independent"}},
"layer": [
{"data": {"name": "hgMacd"}, "mark": {"type": "rule", "color": "#aebdd2", "strokeDash": [3, 2], "strokeWidth": 1},
 "encoding": {"y": {"field": "v", "type": "quantitative", "scale": {"domain": [-0.0832, 0.1339], "nice": false, "zero": false},
   "axis": {"orient": "right", "offset": -59, "values": [0.08481, -0.07681], "format": ".5f", "title": null, "grid": false, "domain": true, "domainColor": "#000000", "domainWidth": 1, "ticks": true, "tickColor": "#000000", "tickSize": 4, "labelColor": "#000000", "labelFont": "Roboto", "labelFontSize": 11, "labelPadding": 2, "labelOverlap": false, "labelBound": false, "labelFlush": false}},
  "x": {"datum": -0.375, "type": "quantitative", "scale": {"domain": [-0.375, 166.625], "nice": false, "zero": false},
   "axis": {"orient": "bottom", "values": [8, 24, 40, 56, 72, 88, 104, 120, 136, 152], "labelExpr": "['ноя 6','ноя 25','дек 14','янв 5','янв 23','фев 11','мар 2','мар 20','апр 8','апр 26'][round((datum.value-8)/16)]", "domain": false, "grid": false, "ticks": true, "tickColor": "#000000", "tickSize": 4, "labelColor": "#000000", "labelFont": "Roboto", "labelFontSize": 11, "labelPadding": 2, "labelOverlap": false, "labelBound": false, "labelFlush": false, "title": null}},
  "x2": {"datum": 151.875}}},
{"data": {"name": "vgrid"}, "mark": {"type": "rule", "color": "#aebdd2", "strokeDash": [3, 2], "strokeWidth": 1},
 "encoding": {"x": {"field": "i", "type": "quantitative", "axis": null}}},
{"data": {"values": [{"v": -0.0832}, {"v": 0.1339}]}, "mark": {"type": "rule", "color": "#000000", "strokeWidth": 1},
 "encoding": {"y": {"field": "v", "type": "quantitative", "axis": null}, "x": {"datum": -0.375, "type": "quantitative", "axis": null}, "x2": {"datum": 151.875}}},
{"data": {"name": "macdH"}, "mark": {"type": "rule", "color": "#0000ff", "strokeWidth": 1},
 "encoding": {"x": {"field": "i", "type": "quantitative", "axis": null}, "y": {"field": "h", "type": "quantitative", "axis": null}, "y2": {"datum": 0}}},
{"data": {"name": "macdS"}, "mark": {"type": "line", "color": "#ff00ff", "strokeWidth": 1.5},
 "encoding": {"x": {"field": "i", "type": "quantitative", "axis": null}, "y": {"field": "v", "type": "quantitative", "axis": null}}},
{"data": {"values": [{}]}, "mark": {"type": "text", "text": "MACD(5,26,5)", "color": "#ffffff", "align": "left", "baseline": "middle", "font": "Roboto", "fontSize": 11},
 "encoding": {"x": {"datum": 0, "type": "quantitative", "axis": null}, "y": {"datum": 0.1118, "type": "quantitative", "axis": null}}},
{"data": {"values": [{}]}, "mark": {"type": "text", "text": "-0.01262", "color": "#ff00ff", "align": "left", "baseline": "middle", "font": "Roboto", "fontSize": 11},
 "encoding": {"x": {"datum": 19.1, "type": "quantitative", "axis": null}, "y": {"datum": 0.1118, "type": "quantitative", "axis": null}}},
{"data": {"values": [{}]}, "mark": {"type": "text", "text": "-0.01674", "color": "#0000ff", "align": "left", "baseline": "middle", "font": "Roboto", "fontSize": 11},
 "encoding": {"x": {"datum": 31.25, "type": "quantitative", "axis": null}, "y": {"datum": 0.1118, "type": "quantitative", "axis": null}}}
]
}
]
}
